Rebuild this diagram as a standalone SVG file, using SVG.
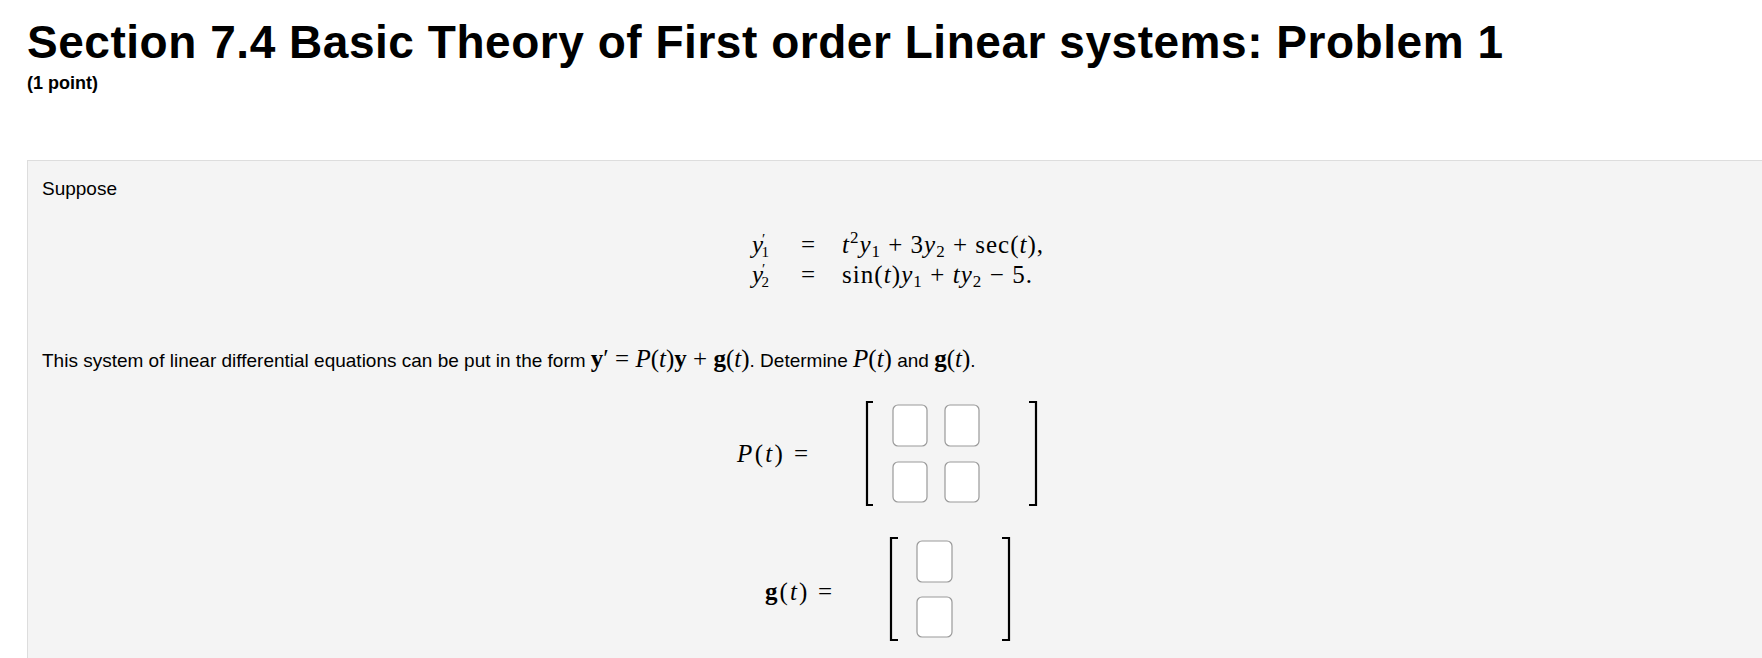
<svg xmlns="http://www.w3.org/2000/svg" width="1762" height="658" viewBox="0 0 1762 658">
<style>
.s{font-family:"Liberation Sans",Arial,sans-serif;fill:#000}
.m{font-family:"Liberation Serif","Times New Roman",serif;font-size:25px;fill:#000}
.i{font-style:italic}
.box{fill:#fff;stroke:#999;stroke-width:1.2}
.br{fill:none;stroke:#000;stroke-width:2.2}
</style>
<rect width="1762" height="658" fill="#fff"/>
<text class="s" x="27" y="58" font-size="46" font-weight="bold" textLength="1476">Section 7.4 Basic Theory of First order Linear systems: Problem 1</text>
<text class="s" x="27" y="89" font-size="18" font-weight="bold">(1 point)</text>
<rect x="27.5" y="160.5" width="1740" height="510" fill="#f4f4f4" stroke="#ddd"/>
<text class="s" x="42" y="195" font-size="19">Suppose</text>
<g id="eq">
<text class="m" x="752" y="253"><tspan class="i">y</tspan><tspan font-size="15" dx="-1" dy="-9">′</tspan><tspan font-size="15" dx="-4" dy="13">1</tspan></text>
<text class="m" x="801" y="253">=</text>
<text class="m" x="842" y="253" textLength="201" lengthAdjust="spacing"><tspan class="i">t</tspan><tspan dy="-10" font-size="17">2</tspan><tspan dy="10" class="i">y</tspan><tspan dy="4" font-size="17">1</tspan><tspan dy="-4"> + 3</tspan><tspan class="i">y</tspan><tspan dy="4" font-size="17">2</tspan><tspan dy="-4"> + sec(</tspan><tspan class="i">t</tspan><tspan>),</tspan></text>
<text class="m" x="752" y="283"><tspan class="i">y</tspan><tspan font-size="15" dx="-1" dy="-9">′</tspan><tspan font-size="15" dx="-4" dy="13">2</tspan></text>
<text class="m" x="801" y="283">=</text>
<text class="m" x="842" y="283" textLength="190" lengthAdjust="spacing"><tspan>sin(</tspan><tspan class="i">t</tspan><tspan>)</tspan><tspan class="i">y</tspan><tspan dy="4" font-size="17">1</tspan><tspan dy="-4"> + </tspan><tspan class="i">ty</tspan><tspan dy="4" font-size="17">2</tspan><tspan dy="-4"> − 5.</tspan></text>
</g>
<text x="42" y="367"><tspan class="s" font-size="19">This system of linear differential equations can be put in the form </tspan><tspan class="m" font-weight="bold">y</tspan><tspan class="m">′ = </tspan><tspan class="m i">P</tspan><tspan class="m">(</tspan><tspan class="m i">t</tspan><tspan class="m">)</tspan><tspan class="m" font-weight="bold">y</tspan><tspan class="m"> + </tspan><tspan class="m" font-weight="bold">g</tspan><tspan class="m">(</tspan><tspan class="m i">t</tspan><tspan class="m">)</tspan><tspan class="s" font-size="19">. Determine </tspan><tspan class="m i">P</tspan><tspan class="m">(</tspan><tspan class="m i">t</tspan><tspan class="m">)</tspan><tspan class="s" font-size="19"> and </tspan><tspan class="m" font-weight="bold">g</tspan><tspan class="m">(</tspan><tspan class="m i">t</tspan><tspan class="m">)</tspan><tspan class="s" font-size="19">.</tspan></text>
<g id="P">
<text class="m" x="737" y="462" textLength="71" lengthAdjust="spacing"><tspan class="i">P</tspan>(<tspan class="i">t</tspan>) =</text>
<path class="br" d="M873,402 H867 V505 H873"/>
<path class="br" d="M1029,402 H1036 V505 H1029"/>
<rect class="box" x="893" y="405" width="34" height="41" rx="5"/>
<rect class="box" x="945" y="405" width="34" height="41" rx="5"/>
<rect class="box" x="893" y="462" width="34" height="40" rx="5"/>
<rect class="box" x="945" y="462" width="34" height="40" rx="5"/>
</g>
<g id="g">
<text class="m" x="765" y="600" textLength="67" lengthAdjust="spacing"><tspan font-weight="bold">g</tspan>(<tspan class="i">t</tspan>) =</text>
<path class="br" d="M898,538 H891 V640 H898"/>
<path class="br" d="M1002,538 H1009 V640 H1002"/>
<rect class="box" x="917" y="541" width="35" height="41" rx="5"/>
<rect class="box" x="917" y="597" width="35" height="40" rx="5"/>
</g>
</svg>
